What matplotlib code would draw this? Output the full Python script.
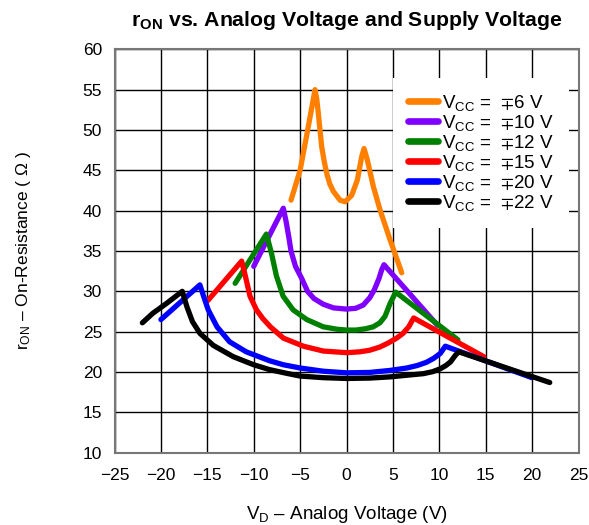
import matplotlib
matplotlib.use("Agg")
import matplotlib.pyplot as plt

plt.rcParams['font.family'] = ['Liberation Sans', 'DejaVu Sans']
plt.rcParams['mathtext.fontset'] = 'custom'
plt.rcParams['mathtext.rm'] = 'Liberation Sans'
plt.rcParams['mathtext.it'] = 'Liberation Sans'
plt.rcParams['mathtext.bf'] = 'Liberation Sans:bold'
plt.rcParams['mathtext.fallback'] = 'stixsans'
plt.rcParams['mathtext.default'] = 'regular'

# readings (x = analog voltage V, y = on-resistance ohm)
vcc_labels = ["6", "10", "12", "15", "20", "22"]
colors = ["#FF8000", "#8000FF", "#008000", "#FF0000", "#0000FF", "#000000"]

x_6 = [-5.98, -5.0, -4.12, -3.39, -3.2, -3.04, -2.85, -2.67, -2.4, -2.13, -1.8, -1.42, -0.70,
       -0.16, 0.56, 1.17, 1.64, 1.89, 2.24, 2.89, 3.61, 4.69, 5.95]
y_6 = [41.3, 45.0, 50.4, 55.0, 53.8, 52.1, 49.9, 47.9, 46.1, 44.6, 43.3, 42.4, 41.3,
       41.1, 41.9, 43.8, 46.7, 47.7, 46.3, 43.0, 40.1, 36.4, 32.3]

x_10 = [-10.0, -6.81, -6.5, -6.2, -5.98, -5.5, -4.83, -4.2, -3.5, -2.5, -1.4, 0.0, 1.0, 1.8,
        2.5, 3.0, 3.5, 3.8, 4.04, 9.8]
y_10 = [33.1, 40.3, 38.6, 36.6, 35.0, 33.1, 31.6, 30.0, 29.1, 28.4, 27.95, 27.8, 27.9, 28.3,
        29.2, 30.2, 31.6, 32.7, 33.3, 25.8]

x_12 = [-12.0, -8.63, -8.1, -7.55, -6.83, -5.75, -4.28, -2.5, -1.0, 0.0, 1.0, 2.0, 2.87, 3.6,
        4.15, 4.7, 5.3, 12.0]
y_12 = [31.0, 37.1, 34.8, 31.9, 29.4, 27.7, 26.5, 25.6, 25.3, 25.2, 25.2, 25.35, 25.6, 26.1,
        26.9, 28.5, 29.9, 24.0]

x_15 = [-14.95, -11.3, -10.9, -10.4, -9.7, -9.0, -8.2, -6.8, -4.64, -2.5, 0.0, 1.4, 2.5, 3.6,
        4.5, 5.4, 6.1, 6.7, 7.24, 14.8]
y_15 = [28.85, 33.75, 31.9, 29.4, 27.7, 26.6, 25.6, 24.2, 23.2, 22.6, 22.4, 22.5, 22.7, 23.1,
        23.6, 24.2, 24.8, 25.6, 26.7, 21.9]

x_20 = [-20.0, -15.8, -15.4, -14.9, -13.95, -12.6, -10.8, -8.3, -6.8, -5.0, -2.5, 0.0, 2.5, 4.7,
        6.5, 7.6, 8.6, 9.4, 10.1, 10.65, 19.98]
y_20 = [26.5, 30.8, 29.4, 27.7, 25.6, 23.75, 22.5, 21.4, 20.9, 20.5, 20.1, 19.9, 19.95, 20.2,
        20.5, 20.8, 21.2, 21.7, 22.3, 23.2, 19.3]

x_22 = [-22.0, -20.85, -19.4, -17.7, -17.2, -16.6, -15.8, -14.35, -12.2, -10.0, -8.3, -6.5,
        -5.0, -2.5, 0.0, 2.5, 4.7, 6.5, 8.3, 9.3, 10.1, 10.7, 11.2, 11.75, 12.1, 21.9]
y_22 = [26.1, 27.3, 28.5, 30.0, 28.1, 26.25, 24.8, 23.3, 21.9, 20.9, 20.3, 19.85,
        19.5, 19.3, 19.2, 19.25, 19.4, 19.6, 19.8, 20.05, 20.4, 20.8, 21.25, 22.1, 22.5, 18.7]

series = [(x_6, y_6), (x_10, y_10), (x_12, y_12), (x_15, y_15), (x_20, y_20), (x_22, y_22)]

fig = plt.figure(figsize=(5.89, 5.25), dpi=100)
ax = fig.add_axes([0.1944, 0.1377, 0.7878, 0.7684])

for (xs, ys), lab, c in zip(series, vcc_labels, colors):
    ax.plot(xs, ys, color=c, lw=3.8, solid_capstyle='round', solid_joinstyle='round',
            label="V$_{CC}$ =  $\\mp$" + lab + " V", zorder=3)

ax.set_xlim(-25, 25)
ax.set_ylim(10, 60)
ax.set_xticks(range(-25, 26, 5))
ax.set_yticks(range(10, 61, 5))
ax.grid(True, color='black', lw=1.0)
ax.set_axisbelow(True)
ax.tick_params(length=0, labelsize=12.5)
ax.tick_params(axis='x', pad=11)
ax.tick_params(axis='y', pad=9)
for sp in ax.spines.values():
    sp.set_color('#777777')
    sp.set_linewidth(1.5)

ax.set_title("r$_{ON}$ vs. Analog Voltage and Supply Voltage", fontsize=15.3,
             fontweight='bold', pad=17)
ax.set_xlabel("V$_D$ \u2013 Analog Voltage (V)", fontsize=13.5, labelpad=15)
ax.set_ylabel("r$_{ON}$ \u2013 On-Resistance ( \u03a9 )", fontsize=12.5, labelpad=36)

leg = ax.legend(loc='upper left', bbox_to_anchor=(0.600, 0.929), fontsize=13.5,
                frameon=True, facecolor='white', edgecolor='none', framealpha=1,
                fancybox=False, handlelength=1.6, handletextpad=0.22, labelspacing=0.0,
                borderpad=0.8, borderaxespad=0)
for h in leg.legend_handles:
    h.set_linewidth(4.8)

fig.savefig("out.png", dpi=100)
